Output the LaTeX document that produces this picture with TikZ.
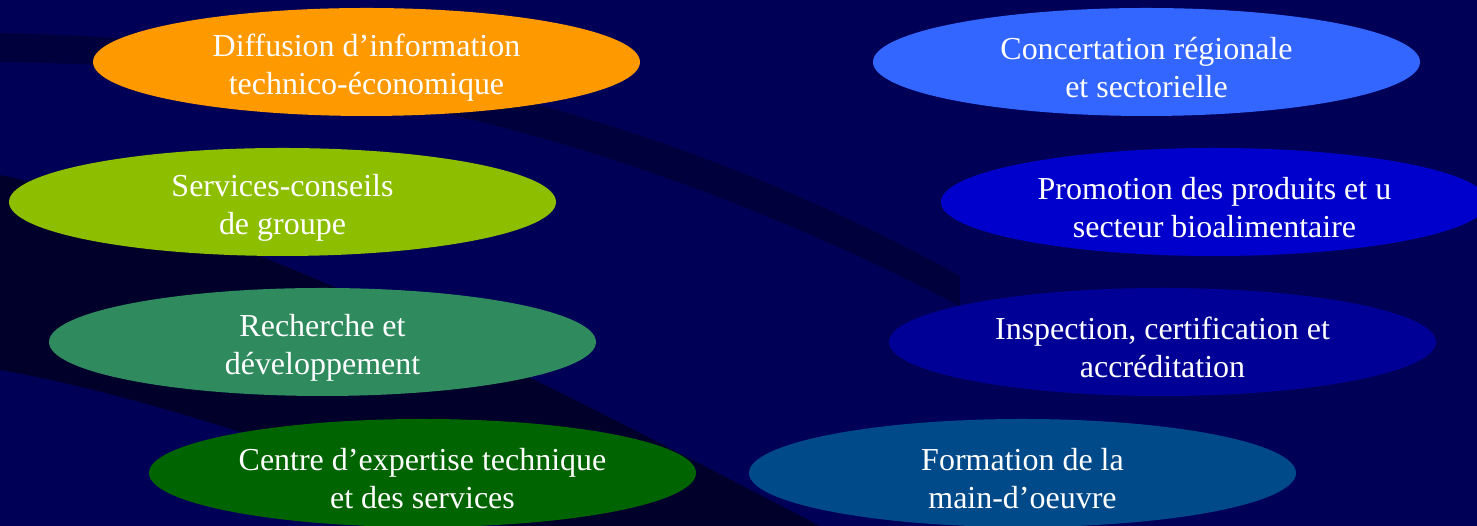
\documentclass[tikz,border=0pt]{standalone}
\usepackage{fontspec}
\setmainfont{Liberation Serif}
\usetikzlibrary{shapes.geometric}
\definecolor{bgnavy}{HTML}{000057}
\definecolor{diffusion}{HTML}{FF9900}
\definecolor{concertation}{HTML}{3366FF}
\definecolor{conseils}{HTML}{8DBF00}
\definecolor{promotion}{HTML}{0000CC}
\definecolor{recherche}{HTML}{2F8A5E}
\definecolor{inspection}{HTML}{000096}
\definecolor{expertise}{HTML}{006400}
\definecolor{formation}{HTML}{004A8A}
\newcommand{\haut}{\rule{0pt}{9.6pt}}
\tikzset{
  domaine/.style={ellipse, minimum width=5.47cm, minimum height=1.08cm,
    inner xsep=0pt, inner ysep=-1.5pt, text=white, align=center,
    font=\fontsize{9.1pt}{10.8pt}\selectfont},
  bande/.style={fill=black, fill opacity=0.3, draw=none}
}
\begin{document}
\begin{tikzpicture}
      \useasboundingbox (0,0) rectangle (14.77,5.26);
      \clip (0,0) rectangle (14.77,5.26);
      \fill[bgnavy] (0,0) rectangle (14.77,5.26);
      \fill[bande] (0,4.93) .. controls (3.5,4.85) and (6.5,4.2) .. (9.6,2.5)
        -- (9.6,2.2) .. controls (6.5,3.8) and (3.5,4.6) .. (0,4.64) -- cycle;
      \fill[bande, fill opacity=0.5] (0,3.51) .. controls (2.5,3.0) and (5.5,1.4) .. (8.2,0)
        -- (5,0) .. controls (3.5,0.6) and (1.5,1.3) .. (0,1.56) -- cycle;
      \draw
        (3.665,4.64) node[domaine, fill=diffusion] (diffusion){\haut Diffusion d’information\\technico-économique}
        (11.465,4.64) node[domaine, fill=concertation] (concertation){\haut Concertation régionale\\et sectorielle}
        (2.825,3.24) node[domaine, fill=conseils] (conseils){\haut Services-conseils\\de groupe}
        (12.145,3.24) node[domaine, fill=promotion] (promotion){\haut Promotion des produits et u\\secteur bioalimentaire}
        (3.225,1.84) node[domaine, fill=recherche] (recherche){\haut Recherche et\\développement}
        (11.625,1.84) node[domaine, fill=inspection] (inspection){\haut Inspection, certification et\\accréditation}
        (4.225,0.53) node[domaine, fill=expertise] (expertise){\haut Centre d’expertise technique\\et des services}
        (10.225,0.53) node[domaine, fill=formation] (formation){\haut Formation de la\\main-d’oeuvre};
    \end{tikzpicture}
\end{document}
